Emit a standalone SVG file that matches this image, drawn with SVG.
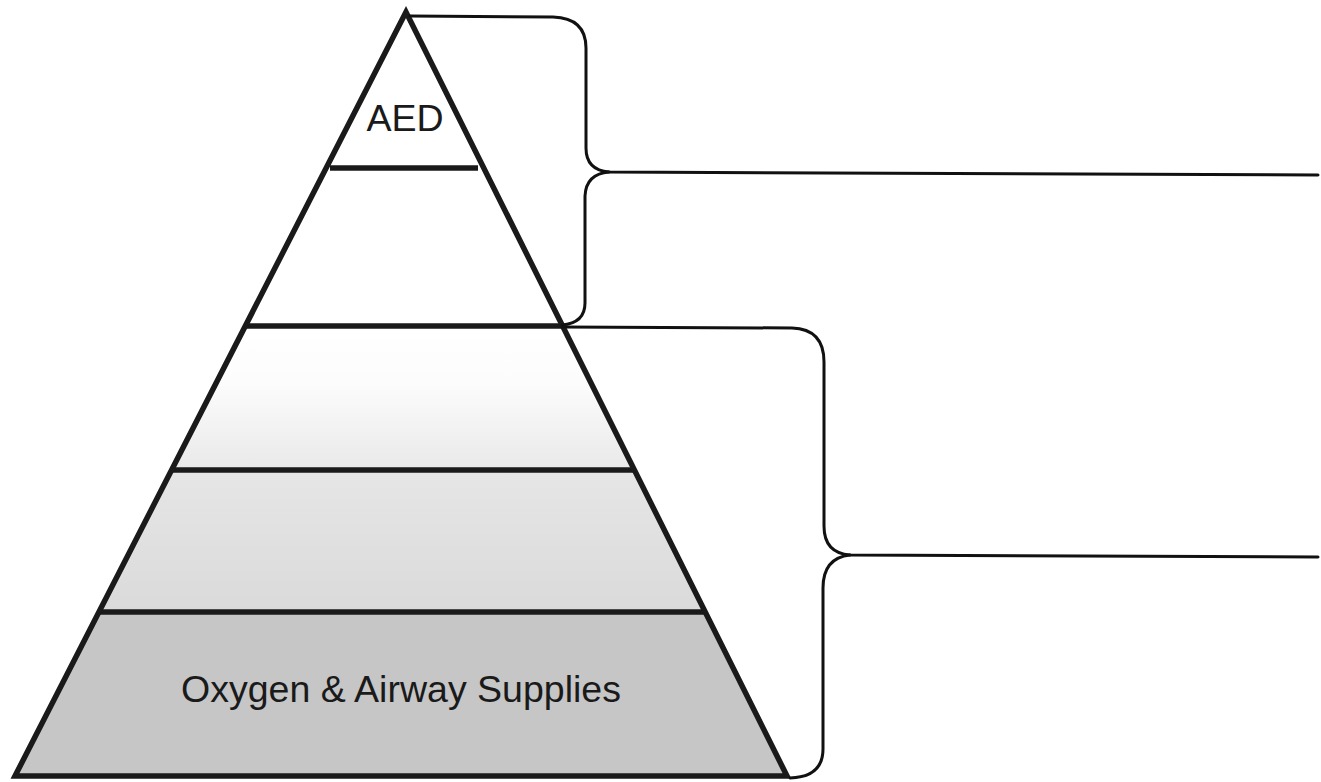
<svg xmlns="http://www.w3.org/2000/svg" width="1321" height="782" viewBox="0 0 1321 782">
  <defs>
    <linearGradient id="g3" x1="0" y1="0" x2="0" y2="1">
      <stop offset="0" stop-color="#ffffff"/>
      <stop offset="0.4" stop-color="#fcfcfc"/>
      <stop offset="1" stop-color="#e9e9e9"/>
    </linearGradient>
    <linearGradient id="g4" x1="0" y1="0" x2="0" y2="1">
      <stop offset="0" stop-color="#e6e6e6"/>
      <stop offset="1" stop-color="#dadada"/>
    </linearGradient>
  </defs>
  <style>
    .edge { fill: none; stroke: #1a1a1a; stroke-width: 5.5; stroke-linejoin: miter; }
    .div { stroke: #1a1a1a; stroke-width: 5.5; }
    .brace { fill: none; stroke: #111; stroke-width: 3; stroke-linecap: round; }
    .lbl { font-family: "Liberation Sans", Arial, sans-serif; font-size: 37.5px; fill: #1a1a1a; text-anchor: middle; }
  </style>
  <rect width="1321" height="782" fill="#ffffff"/>

  <g id="tier-aed">
    <polygon points="406,12 326,168 484,168" fill="#ffffff"/>
    <text class="lbl" x="405" y="131">AED</text>
  </g>
  <g id="tier-2">
    <polygon points="326,168 484,168 563,326 246,326" fill="#ffffff"/>
  </g>
  <g id="tier-3">
    <polygon points="246,326 563,326 634,470 172,470" fill="url(#g3)"/>
  </g>
  <g id="tier-4">
    <polygon points="172,470 634,470 705,612 99,612" fill="url(#g4)"/>
  </g>
  <g id="tier-oxygen">
    <polygon points="99,612 705,612 787,776 15,776" fill="#c6c6c6"/>
    <text class="lbl" x="401" y="702">Oxygen &amp; Airway Supplies</text>
  </g>

  <g id="pyramid-lines">
    <line class="div" x1="330" y1="168" x2="478" y2="168"/>
    <line class="div" x1="247" y1="326" x2="562" y2="326"/>
    <line class="div" x1="173" y1="470" x2="633" y2="470"/>
    <line class="div" x1="100" y1="612" x2="704" y2="612"/>
    <polygon class="edge" points="406,12 15,776 787,776"/>
  </g>

  <g id="connectors">
    <path class="brace" d="M410,16 L553,17 Q586,18 586,48 L586,148 Q586,170 609,172 L1318,175"/>
    <path class="brace" d="M609,172 Q586,174 585,196 L585,303 Q585,323 562,325"/>
    <path class="brace" d="M562,327 L792,328 Q824,329 824,362 L824,526 Q824,553 850,555 L1318,557"/>
    <path class="brace" d="M850,555 Q823,558 823,588 L823,749 Q823,777 790,778"/>
  </g>
</svg>
